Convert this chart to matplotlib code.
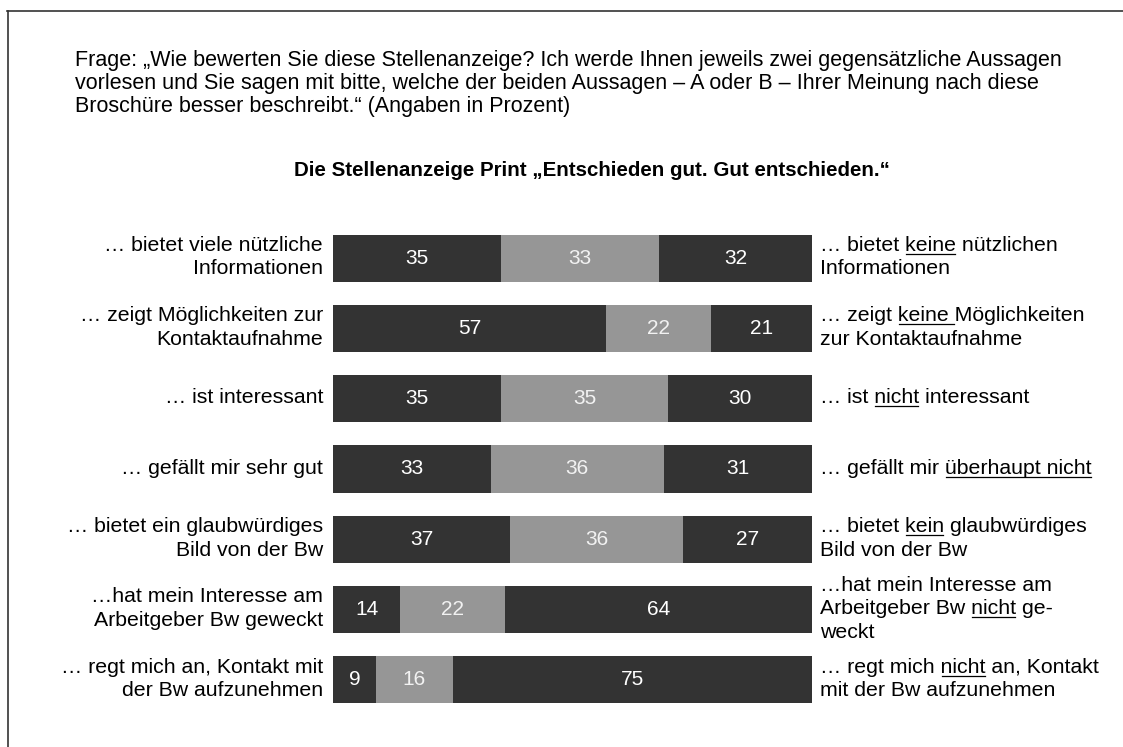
import numpy as np
import matplotlib.pyplot as plt
from matplotlib.lines import Line2D

plt.rcParams['font.family'] = ['Liberation Sans', 'DejaVu Sans']

# data
left_labels = [["… bietet viele nützliche", "Informationen"],
               ["… zeigt Möglichkeiten zur", "Kontaktaufnahme"],
               ["… ist interessant"],
               ["… gefällt mir sehr gut"],
               ["… bietet ein glaubwürdiges", "Bild von der Bw"],
               ["…hat mein Interesse am", "Arbeitgeber Bw geweckt"],
               ["… regt mich an, Kontakt mit", "der Bw aufzunehmen"]]
# words between underscores are underlined
right_labels = [["… bietet _keine_ nützlichen", "Informationen"],
                ["… zeigt _keine _Möglichkeiten", "zur Kontaktaufnahme"],
                ["… ist _nicht_ interessant"],
                ["… gefällt mir _überhaupt nicht_"],
                ["… bietet _kein_ glaubwürdiges", "Bild von der Bw"],
                ["…hat mein Interesse am", "Arbeitgeber Bw _nicht_ ge-", "weckt"],
                ["… regt mich _nicht_ an, Kontakt", "mit der Bw aufzunehmen"]]
val_a = [35, 57, 35, 33, 37, 14, 9]
val_mid = [33, 22, 35, 36, 36, 22, 16]
val_b = [32, 21, 30, 31, 27, 64, 75]

question = ["Frage: „Wie bewerten Sie diese Stellenanzeige? Ich werde Ihnen jeweils zwei gegensätzliche Aussagen",
            "vorlesen und Sie sagen mit bitte, welche der beiden Aussagen – A oder B – Ihrer Meinung nach diese",
            "Broschüre besser beschreibt.“ (Angaben in Prozent)"]
title = "Die Stellenanzeige Print „Entschieden gut. Gut entschieden.“"

dark = "#333333"
grey = "#969696"
fs_q = 15.5
fs = 15.3
fs_num = 15

W, H = 1123, 747
fig = plt.figure(figsize=(W / 100, H / 100), dpi=100)


def px(x, y):
    # pixel position (from top-left) -> figure fraction
    return x / W, 1 - y / H


# frame (left and top edge)
fig.add_artist(Line2D([7.5 / W, 7.5 / W], [0, 1 - 11 / H], color="#333333", lw=1.2))
fig.add_artist(Line2D([7 / W, 1], [1 - 11 / H, 1 - 11 / H], color="#333333", lw=1.2))

for k, line in enumerate(question):
    fig.text(*px(75, 66 + 23 * k), line, fontsize=fs_q, ha="left", va="baseline")
fig.text(*px(592, 176), title, fontsize=14.8, fontweight="bold", ha="center", va="baseline")

ax = fig.add_axes([333 / W, 1 - 715 / H, (812 - 333) / W, (715 - 223) / H])
y = np.arange(len(left_labels))
a = np.array(val_a)
m = np.array(val_mid)
b = np.array(val_b)
h = 0.67
ax.barh(y, a, height=h, color=dark)
ax.barh(y, m, left=a, height=h, color=grey)
ax.barh(y, b, left=a + m, height=h, color=dark)
ax.set_xlim(0, 100)
ax.set_ylim(6.5, -0.5)
ax.axis("off")

for i in range(len(y)):
    ax.text(a[i] / 2, i, str(a[i]), color="white", fontsize=fs_num, ha="center", va="center")
    ax.text(a[i] + m[i] / 2, i, str(m[i]), color="#f2f2f2", fontsize=fs_num, ha="center", va="center")
    ax.text(a[i] + m[i] + b[i] / 2, i, str(b[i]), color="white", fontsize=fs_num, ha="center", va="center")

fig.canvas.draw()
renderer = fig.canvas.get_renderer()


def tw(s):
    t = fig.text(0, 0, s, fontsize=fs)
    w = t.get_window_extent(renderer).width
    t.remove()
    return w


lh = 23.5
cap = 4.5
for i in range(len(y)):
    xl, yc = ax.transData.transform((0, i))
    xr, _ = ax.transData.transform((100, i))
    yc = H - yc  # from top

    lines = left_labels[i]
    n = len(lines)
    for j, line in enumerate(lines):
        yb = yc + (j - (n - 1) / 2) * lh + cap
        fig.text(*px(xl - 10, yb), line, fontsize=fs, ha="right", va="baseline")

    lines = right_labels[i]
    n = len(lines)
    for j, line in enumerate(lines):
        yb = yc + (j - (n - 1) / 2) * lh + cap
        parts = line.split("_")
        x0 = xr + 8
        fig.text(*px(x0, yb), "".join(parts), fontsize=fs, ha="left", va="baseline")
        if len(parts) == 3:
            pre, word = parts[0], parts[1]
            u0 = tw(pre + "l") - tw("l") if pre else 0
            u1 = tw(pre + word + "l") - tw("l")
            fig.add_artist(Line2D([(x0 + u0 + 1) / W, (x0 + u1 - 1) / W],
                                  [1 - (yb + 3) / H, 1 - (yb + 3) / H], color="black", lw=0.9))

fig.savefig("out.png", dpi=100)
